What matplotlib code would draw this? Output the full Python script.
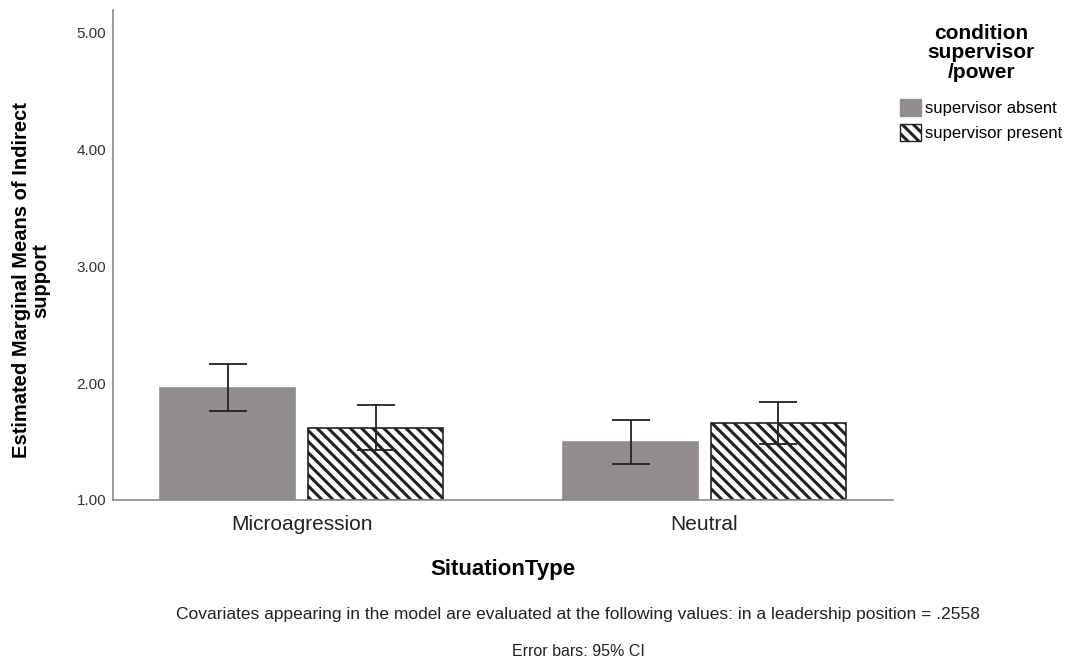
import matplotlib

matplotlib.use("Agg")
import matplotlib.pyplot as plt
import numpy as np
from matplotlib.patches import Patch

plt.rcParams["font.family"] = ["Liberation Sans", "DejaVu Sans"]
plt.rcParams["hatch.linewidth"] = 2.2
plt.rcParams["hatch.color"] = "black"

situations = ["Microagression", "Neutral"]
groups = ["supervisor absent", "supervisor present"]
means = {
    "supervisor absent": [1.96, 1.50],
    "supervisor present": [1.62, 1.66],
}
ci_low = {
    "supervisor absent": [1.76, 1.31],
    "supervisor present": [1.43, 1.48],
}
ci_high = {
    "supervisor absent": [2.16, 1.68],
    "supervisor present": [1.81, 1.84],
}
y_ticks = [1.0, 2.0, 3.0, 4.0, 5.0]

fig = plt.figure(figsize=(10.67, 6.61), dpi=100)
ax = fig.add_axes([0.106, 0.2436, 0.731, 0.741])

x = np.arange(len(situations))
width = 0.335
offsets = [-0.1836, 0.1836]
gray = "#918d8d"
styles = [
    dict(color=gray, edgecolor=gray, hatch=None),
    dict(color="white", edgecolor="#222222", hatch="\\\\\\"),
]
for g, off, st in zip(groups, offsets, styles):
    m = np.array(means[g])
    lo = m - np.array(ci_low[g])
    hi = np.array(ci_high[g]) - m
    ax.bar(x + off, m - 1.0, width, bottom=1.0, facecolor=st["color"],
           edgecolor=st["edgecolor"], hatch=st["hatch"], linewidth=1.2, zorder=2)
    ax.errorbar(x + off, m, yerr=[lo, hi], fmt="none", ecolor="#222222",
                elinewidth=1.3, capsize=13.5, capthick=1.3, zorder=3)

ax.set_xlim(-0.468, 1.468)
ax.set_ylim(1.0, 5.19)
ax.set_yticks(y_ticks)
ax.set_yticklabels([f"{v:.2f}" for v in y_ticks], fontsize=11, color="#333333")
ax.set_xticks(x)
ax.set_xticklabels(situations, fontsize=15, color="#222222")
ax.tick_params(length=0)
ax.tick_params(axis="y", pad=5)
ax.tick_params(axis="x", pad=11)
for side in ["top", "right"]:
    ax.spines[side].set_visible(False)
for side in ["left", "bottom"]:
    ax.spines[side].set_color("#8a8a8a")
    ax.spines[side].set_linewidth(1.2)

ax.set_xlabel("SituationType", fontsize=16, fontweight="bold", labelpad=18)
fig.text(0.029, 0.576, "Estimated Marginal Means of Indirect\nsupport",
         rotation=90, ha="center", va="center", fontsize=14.5,
         fontweight="bold", linespacing=1.0)

handles = [
    Patch(facecolor=gray, edgecolor=gray, label=groups[0]),
    Patch(facecolor="white", edgecolor="#222222", hatch="\\\\\\", label=groups[1]),
]
leg = fig.legend(handles=handles, loc="upper left", bbox_to_anchor=(0.833, 0.982),
                 title="condition\nsupervisor\n/power", frameon=False, fontsize=12,
                 title_fontproperties={"weight": "bold", "size": 15},
                 handlelength=1.25, handleheight=1.25, handletextpad=0.2,
                 labelspacing=0.45, borderpad=0.2)
leg.get_title().set_multialignment("center")
leg.get_title().set_linespacing(1.05)
leg._legend_box.sep = 12

fig.text(0.542, 0.071,
         "Covariates appearing in the model are evaluated at the following values: "
         "in a leadership position = .2558",
         ha="center", va="center", fontsize=12.5, color="#222222")
fig.text(0.542, 0.015, "Error bars: 95% CI", ha="center", va="center",
         fontsize=11.5, color="#222222")

fig.savefig("out.png", dpi=100)
plt.close(fig)
